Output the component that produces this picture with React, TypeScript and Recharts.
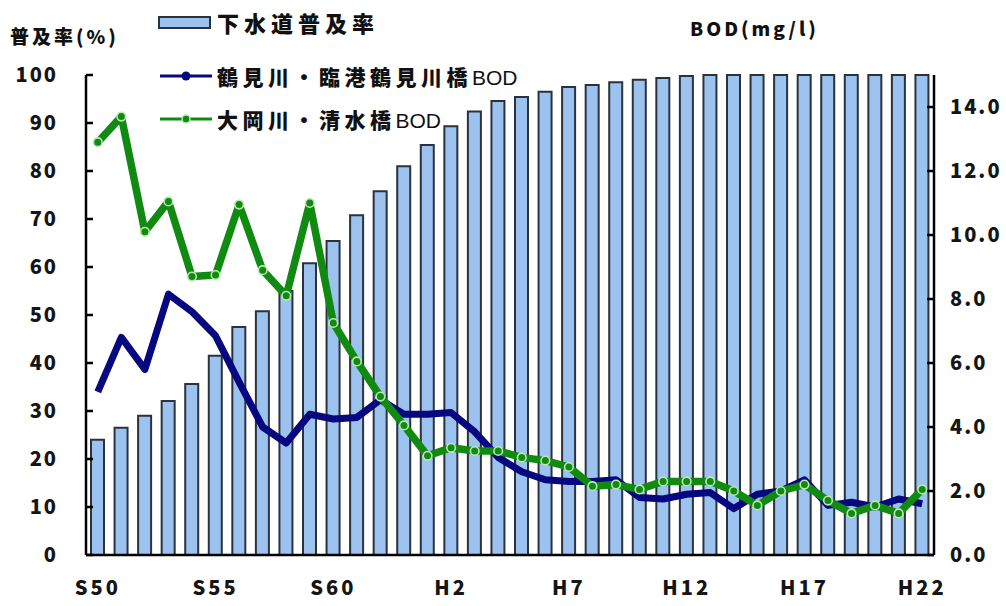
import { Bar, ComposedChart, Line, XAxis, YAxis } from "recharts";

const years = [
  "S50", "S51", "S52", "S53", "S54", "S55", "S56", "S57", "S58", "S59",
  "S60", "S61", "S62", "S63", "H1", "H2", "H3", "H4", "H5", "H6",
  "H7", "H8", "H9", "H10", "H11", "H12", "H13", "H14", "H15", "H16",
  "H17", "H18", "H19", "H20", "H21", "H22",
];

// 下水道普及率 (%)
const sewerCoverage = [
  24.0, 26.5, 29.0, 32.1, 35.6, 41.5, 47.5, 50.8, 55.0, 60.8,
  65.4, 70.8, 75.8, 81.0, 85.4, 89.3, 92.4, 94.6, 95.4, 96.5,
  97.5, 97.9, 98.5, 99.0, 99.4, 99.8, 100, 100, 100, 100,
  100, 100, 100, 100, 100, 100,
];

// 鶴見川・臨港鶴見川橋 BOD (mg/l)
const tsurumiBod = [
  5.1, 6.8, 5.8, 8.15, 7.6, 6.85, 5.4, 4.0, 3.5, 4.4,
  4.25, 4.3, 4.85, 4.4, 4.4, 4.45, 3.85, 3.05, 2.6, 2.35,
  2.3, 2.3, 2.35, 1.8, 1.75, 1.9, 1.95, 1.45, 1.9, 2.0,
  2.35, 1.55, 1.65, 1.5, 1.75, 1.6,
];

// 大岡川・清水橋 BOD (mg/l)
const ookaBod = [
  12.9, 13.7, 10.1, 11.05, 8.7, 8.75, 10.95, 8.9, 8.1, 11.0,
  7.25, 6.05, 4.95, 4.05, 3.1, 3.35, 3.25, 3.25, 3.05, 2.95,
  2.75, 2.15, 2.2, 2.05, 2.3, 2.3, 2.3, 2.0, 1.55, 2.0,
  2.2, 1.7, 1.3, 1.55, 1.3, 2.05,
];

const coverageTicks = [0, 10, 20, 30, 40, 50, 60, 70, 80, 90, 100];
const bodTicks = [0, 2, 4, 6, 8, 10, 12, 14];

const data = years.map((year, i) => ({
  year,
  coverage: sewerCoverage[i],
  tsurumi: tsurumiBod[i],
  ooka: ookaBod[i],
}));

const BAR_FILL = "#9cc2ef";
const BAR_STROKE = "#2b323c";
const NAVY = "#07077f";
const GREEN = "#118a11";
const DOT_RING = "#b9e8b0";

const jpFont = "'Noto Sans CJK JP', sans-serif";
const tickText = {
  fontFamily: jpFont,
  fontWeight: 900,
  fontSize: 20,
  fill: "#151515",
  letterSpacing: 2,
};

function LeftTick(props: any) {
  const { x, y, payload } = props;
  return (
    <g>
      <line x1={x} x2={x + 7} y1={y} y2={y} stroke="#000" strokeWidth={2.5} />
      <text x={x - 28} y={y} dy="0.36em" textAnchor="end" {...tickText}>
        {payload.value}
      </text>
    </g>
  );
}

function RightTick(props: any) {
  const { x, y, payload } = props;
  return (
    <g>
      <line x1={x - 7} x2={x} y1={y} y2={y} stroke="#000" strokeWidth={2.5} />
      <text x={x + 16} y={y} dy="0.36em" textAnchor="start" {...tickText}>
        {Number(payload.value).toFixed(1)}
      </text>
    </g>
  );
}

function BottomTick(props: any) {
  const { x, y, payload } = props;
  return (
    <text x={x} y={y + 33} dy="0.36em" textAnchor="middle" {...tickText} letterSpacing={3}>
      {payload.value}
    </text>
  );
}

function GreenDot(props: any) {
  const { cx, cy, index } = props;
  if (cx == null || cy == null) return <g key={index} />;
  return <circle key={index} cx={cx} cy={cy} r={4.3} fill={GREEN} stroke={DOT_RING} strokeWidth={1.6} />;
}

function Overlay() {
  const legendText = { fontFamily: jpFont, fontWeight: 900, fontSize: 21, fill: "#111" };
  const latin = { fontFamily: "'Liberation Sans', Arial, sans-serif", fontWeight: 400, letterSpacing: 0 };
  return (
    <svg
      width={1006}
      height={606}
      style={{ position: "absolute", left: 0, top: 0, pointerEvents: "none" }}
    >
      <text x={10} y={37} dy="0.36em" {...legendText} fontSize={19} letterSpacing={3}>
        普及率(%)
      </text>
      <text x={690} y={29} dy="0.36em" {...legendText} fontSize={19} letterSpacing={3}>
        BOD(mg/l)
      </text>

      <rect x={159} y={17} width={51} height={11} fill={BAR_FILL} stroke={BAR_STROKE} strokeWidth={2} />
      <text x={217} y={24} dy="0.36em" {...legendText} fontSize={22} letterSpacing={5}>
        下水道普及率
      </text>

      <line x1={160} x2={212} y1={76} y2={76} stroke={NAVY} strokeWidth={3} />
      <circle cx={186} cy={76} r={4.5} fill={NAVY} />
      <text x={217} y={77} dy="0.36em" {...legendText} letterSpacing={4.5}>
        鶴見川・臨港鶴見川橋<tspan {...latin}>BOD</tspan>
      </text>

      <line x1={160} x2={212} y1={119} y2={119} stroke={GREEN} strokeWidth={3} />
      <circle cx={186} cy={119} r={4} fill={GREEN} stroke={DOT_RING} strokeWidth={1.5} />
      <text x={217} y={120} dy="0.36em" {...legendText} letterSpacing={4.5}>
        大岡川・清水橋<tspan {...latin}>BOD</tspan>
      </text>
    </svg>
  );
}

export default function App() {
  return (
    <div style={{ position: "absolute", left: 0, top: 0, width: 1006, height: 606, background: "#fff" }}>
      <ComposedChart
        width={1006}
        height={606}
        data={data}
        margin={{ top: 75, right: 0, bottom: 0, left: 0 }}
      >
        <XAxis
          dataKey="year"
          interval={4}
          height={51}
          tickLine={false}
          tickSize={0}
          tickMargin={0}
          axisLine={{ stroke: "#000", strokeWidth: 2.5 }}
          tick={<BottomTick />}
        />
        <YAxis
          yAxisId="left"
          orientation="left"
          width={86}
          domain={[0, 100]}
          ticks={coverageTicks}
          tickLine={false}
          tickSize={0}
          tickMargin={0}
          axisLine={{ stroke: "#000", strokeWidth: 2.5 }}
          tick={<LeftTick />}
        />
        <YAxis
          yAxisId="right"
          orientation="right"
          width={72}
          domain={[0, 15]}
          ticks={bodTicks}
          tickLine={false}
          tickSize={0}
          tickMargin={0}
          axisLine={{ stroke: "#000", strokeWidth: 2.5 }}
          tick={<RightTick />}
        />
        <Bar
          yAxisId="left"
          dataKey="coverage"
          barSize={13}
          fill={BAR_FILL}
          stroke={BAR_STROKE}
          strokeWidth={2}
          isAnimationActive={false}
        />
        <Line
          yAxisId="right"
          dataKey="tsurumi"
          type="linear"
          stroke={NAVY}
          strokeWidth={7}
          strokeLinejoin="round"
          dot={false}
          isAnimationActive={false}
        />
        <Line
          yAxisId="right"
          dataKey="ooka"
          type="linear"
          stroke={GREEN}
          strokeWidth={7.5}
          strokeLinejoin="round"
          dot={<GreenDot />}
          isAnimationActive={false}
        />
      </ComposedChart>
      <Overlay />
    </div>
  );
}
